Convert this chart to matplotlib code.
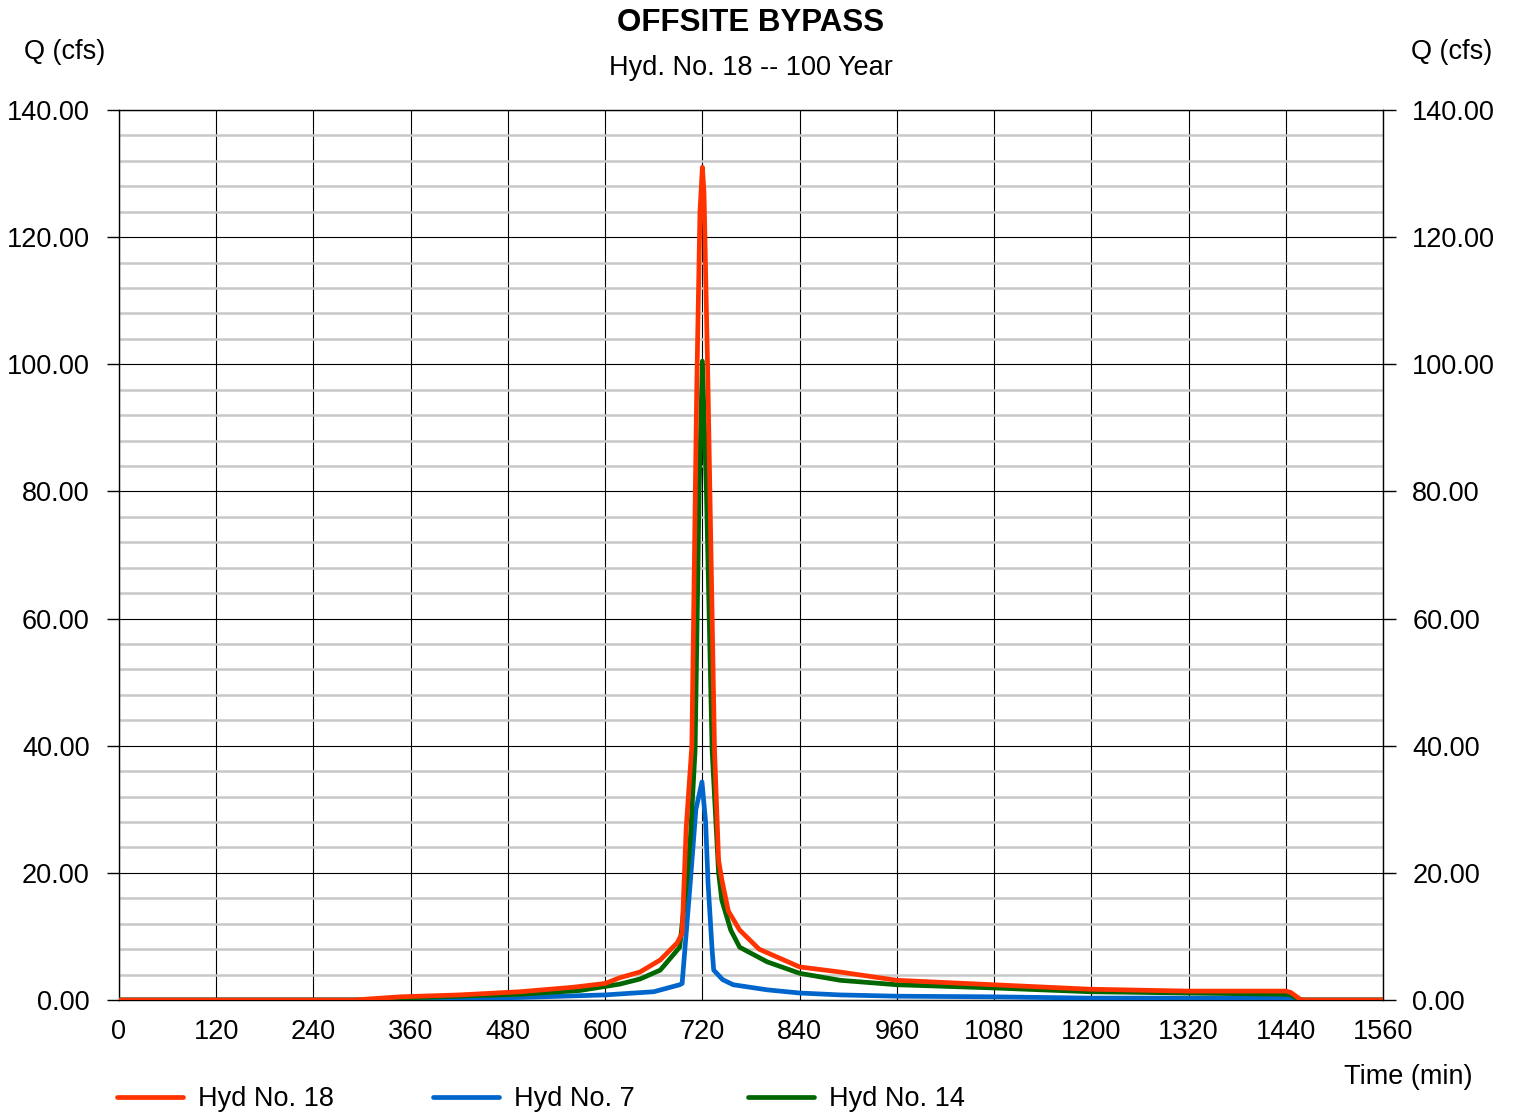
"""Hydrograph: OFFSITE BYPASS, Hyd. No. 18 -- 100 Year."""
import matplotlib
matplotlib.use("Agg")
import matplotlib.pyplot as plt
from matplotlib.ticker import MultipleLocator, FormatStrFormatter

plt.rcParams["font.family"] = ["Liberation Sans", "DejaVu Sans"]

# values (time in min, Q in cfs)
t18 = [0, 290, 347, 420, 495, 560, 600, 618, 643, 668, 689, 695, 700, 707, 713, 717,
       720, 722, 727, 735, 740, 744, 752, 766, 790, 840, 890, 960, 1079, 1198, 1319,
       1440, 1446, 1458, 1464, 1560]
q18 = [0, 0, 0.5, 0.8, 1.3, 2.0, 2.6, 3.5, 4.4, 6.3, 9.0, 10.5, 27.0, 40.0, 96.0, 124.0,
       131.0, 127.0, 96.0, 39.3, 22.0, 18.9, 14.0, 11.0, 8.0, 5.2, 4.4, 3.1, 2.4, 1.7, 1.4,
       1.4, 1.2, 0.1, 0, 0]

t7 = [0, 350, 420, 495, 600, 660, 692, 695, 705, 712, 719.5, 724, 727, 732, 734, 745,
      758, 800, 840, 890, 960, 1079, 1198, 1440, 1446, 1458, 1560]
q7 = [0, 0, 0.2, 0.4, 0.8, 1.3, 2.4, 2.6, 18.4, 30.0, 34.3, 28.0, 18.4, 7.9, 4.7, 3.2,
      2.4, 1.6, 1.1, 0.8, 0.6, 0.5, 0.3, 0.3, 0.25, 0, 0]

t14 = [0, 300, 347, 495, 569, 618, 643, 668, 692, 700, 705, 711, 716, 720, 725, 732,
       740, 744, 755, 766, 800, 840, 890, 960, 1079, 1198, 1319, 1440, 1446, 1458, 1560]
q14 = [0, 0, 0.3, 0.9, 1.5, 2.5, 3.3, 4.7, 8.3, 18.0, 25.0, 39.3, 80.0, 100.5, 80.0, 39.3,
       20.0, 15.7, 11.0, 8.3, 6.0, 4.2, 3.1, 2.4, 1.9, 1.3, 1.1, 0.9, 0.8, 0, 0]

x_ticks = list(range(0, 1561, 120))

W, H = 1513, 1112
fig = plt.figure(figsize=(W / 100, H / 100), dpi=100)
ax = fig.add_axes([119 / W, 1 - 1000 / H, (1383 - 119) / W, (1000 - 110) / H])

red, blue, green = "#ff3300", "#0066cc", "#006600"
kw = dict(lw=3.4, solid_capstyle="round", solid_joinstyle="round")
l7, = ax.plot(t7, q7, color=blue, zorder=3, **kw)
l14, = ax.plot(t14, q14, color=green, zorder=4, **kw)
l18, = ax.plot(t18, q18, color=red, zorder=5, **kw)

ax.set_xlim(0, 1560); ax.set_ylim(0, 140)
ax.set_xticks(x_ticks)
ax.yaxis.set_major_locator(MultipleLocator(20))
ax.yaxis.set_minor_locator(MultipleLocator(4))
ax.yaxis.set_major_formatter(FormatStrFormatter("%.2f"))
ax.tick_params(axis="y", which="major", direction="out", length=9, width=1, pad=12,
               labelsize=19.5, left=True, right=True, labelleft=True, labelright=True)
ax.tick_params(axis="y", which="minor", length=0)
ax.tick_params(axis="x", length=0, pad=14, labelsize=19.5)
ax.grid(True, which="major", color="black", lw=0.8, zorder=1)
ax.grid(True, which="minor", axis="y", color="#c8c8c8", lw=1.8, zorder=0)
for s in ax.spines.values():
    s.set_linewidth(1); s.set_color("black")

fig.text(751 / W, 1 - 23 / H, "OFFSITE BYPASS", ha="center", va="center",
         fontsize=22.5, fontweight="bold")
fig.text(751 / W, 1 - 68 / H, "Hyd. No. 18 -- 100 Year", ha="center", va="center", fontsize=19.5)
fig.text(65 / W, 1 - 52 / H, "Q (cfs)", ha="center", va="center", fontsize=19.5)
fig.text(1452 / W, 1 - 52 / H, "Q (cfs)", ha="center", va="center", fontsize=19.5)
fig.text(1408 / W, 1 - 1077 / H, "Time (min)", ha="center", va="center", fontsize=19.5)

for i, (h, lab) in enumerate([(l18, "Hyd No. 18"), (l7, "Hyd No. 7"), (l14, "Hyd No. 14")]):
    fig.legend([h], [lab], loc="center left", bbox_to_anchor=((117 + 315.5 * i) / W, 1 - 1099 / H),
               frameon=False, fontsize=19.5, borderpad=0, borderaxespad=0,
               handlelength=2.45, handletextpad=0.55)

fig.savefig("out.png", dpi=100, facecolor="white")
